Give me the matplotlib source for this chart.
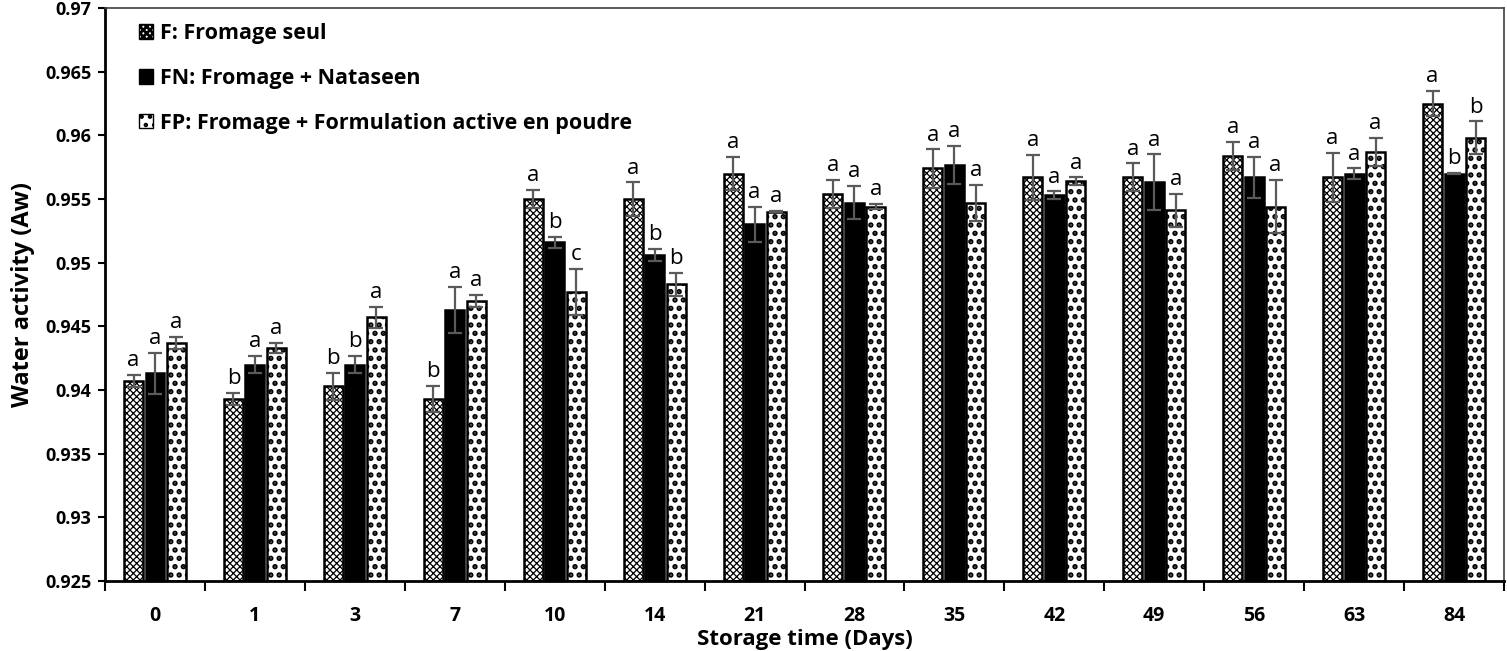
import numpy as np
import matplotlib.pyplot as plt
from matplotlib.patches import Patch

plt.rcParams['font.family'] = ['Open Sans', 'DejaVu Sans']
plt.rcParams['hatch.linewidth'] = 1.0

days = ['0', '1', '3', '7', '10', '14', '21', '28', '35', '42', '49', '56', '63', '84']

aw_F = [0.9407, 0.9393, 0.9403, 0.9393, 0.9550, 0.9550, 0.9570, 0.9554, 0.9574, 0.9567,
        0.9567, 0.9584, 0.9567, 0.9625]
aw_FN = [0.9413, 0.9420, 0.9420, 0.9463, 0.9516, 0.9506, 0.9530, 0.9547, 0.9577, 0.9553,
         0.9563, 0.9567, 0.9570, 0.9570]
aw_FP = [0.9437, 0.9433, 0.9457, 0.9470, 0.9477, 0.9483, 0.9540, 0.9544, 0.9547, 0.9564,
         0.9541, 0.9544, 0.9587, 0.9598]

sd_F = [0.0005, 0.00045, 0.00105, 0.00105, 0.0007, 0.0013, 0.0013, 0.0011, 0.0015, 0.00175,
        0.0011, 0.0011, 0.0019, 0.0010]
sd_FN = [0.0016, 0.00065, 0.00065, 0.0018, 0.00045, 0.00045, 0.0014, 0.0013, 0.0015, 0.0003,
         0.0022, 0.0016, 0.0004, 0.00005]
sd_FP = [0.00045, 0.0004, 0.00085, 0.00045, 0.0018, 0.0009, 0.00005, 0.0002, 0.0014, 0.0003,
         0.0013, 0.0021, 0.0011, 0.0013]

let_F = ['a', 'b', 'b', 'b', 'a', 'a', 'a', 'a', 'a', 'a', 'a', 'a', 'a', 'a']
let_FN = ['a', 'a', 'b', 'a', 'b', 'b', 'a', 'a', 'a', 'a', 'a', 'a', 'a', 'b']
let_FP = ['a', 'a', 'a', 'a', 'c', 'b', 'a', 'a', 'a', 'a', 'a', 'a', 'a', 'b']

labels = ['F: Fromage seul', 'FN: Fromage + Nataseen',
          'FP: Fromage + Formulation active en poudre']

fig = plt.figure(figsize=(15.07, 6.51), dpi=100)
ax = fig.add_axes([0.0697, 0.1075, 0.9283, 0.8802])

x = np.arange(len(days))
w = 0.19
off = 0.215
ekw = dict(ecolor='#5a5a5a', elinewidth=1.6, capsize=5, capthick=1.6)

# (values, sd, letters, offset, bar style, hatch line width)
series = [
    (aw_F, sd_F, let_F, -off, dict(color='white', edgecolor='black', hatch='xxxxx'), 0.9),
    (aw_FN, sd_FN, let_FN, 0, dict(color='black', edgecolor='black'), 1.0),
    (aw_FP, sd_FP, let_FP, off, dict(color='white', edgecolor='black', hatch='..'), 2.6),
]

bottom = 0.925
for vals, sds, lets, dx, style, hlw in series:
    plt.rcParams['hatch.linewidth'] = hlw
    heights = np.array(vals) - bottom
    ax.bar(x + dx, heights, w, bottom=bottom, linewidth=1.8, yerr=sds,
           error_kw=ekw, zorder=2, **style)
    for xi, v, s, l in zip(x + dx, vals, sds, lets):
        ax.text(xi, v + s + 0.0003, l, ha='center', va='bottom', fontsize=16)

ax.set_xlim(-0.5, len(days) - 0.5)
ax.set_ylim(0.925, 0.97)
ax.set_yticks(np.arange(0.925, 0.9701, 0.005))
ax.set_yticklabels(['0.925', '0.93', '0.935', '0.94', '0.945', '0.95', '0.955', '0.96',
                    '0.965', '0.97'], fontsize=13, fontweight='bold')
ax.set_xticks(np.arange(-0.5, len(days), 1.0))
ax.set_xticklabels([])
ax.set_xticks(x, minor=True)
ax.set_xticklabels(days, minor=True, fontsize=14, fontweight='bold')
ax.tick_params(axis='x', which='major', direction='out', length=7, width=1.5)
ax.tick_params(axis='x', which='minor', length=0, pad=18)
ax.tick_params(axis='y', direction='out', length=5, width=1.5, pad=5)

for side in ['left', 'bottom']:
    ax.spines[side].set_linewidth(2)
for side in ['top', 'right']:
    ax.spines[side].set_linewidth(1.2)
    ax.spines[side].set_color('#404040')

ax.set_ylabel('Water activity (Aw)', fontsize=17, fontweight='bold', labelpad=7)
ax.set_xlabel('Storage time (Days)', fontsize=16, fontweight='bold', labelpad=2)

plt.rcParams['hatch.linewidth'] = 0.9
hF = Patch(facecolor='white', edgecolor='black', hatch='xxxxx', linewidth=1)
hN = Patch(facecolor='black', edgecolor='black')
plt.rcParams['hatch.linewidth'] = 2.0
hP = Patch(facecolor='white', edgecolor='black', hatch='..', linewidth=1)
leg = ax.legend([hF, hN, hP], labels, loc='upper left', bbox_to_anchor=(0.009, 1.011),
                frameon=False, prop={'size': 15.5, 'weight': 'bold'}, labelspacing=1.1,
                handlelength=0.65, handleheight=0.65, handletextpad=0.3, borderaxespad=0.5,
                borderpad=0.5)

fig.savefig('out.png', dpi=100)
